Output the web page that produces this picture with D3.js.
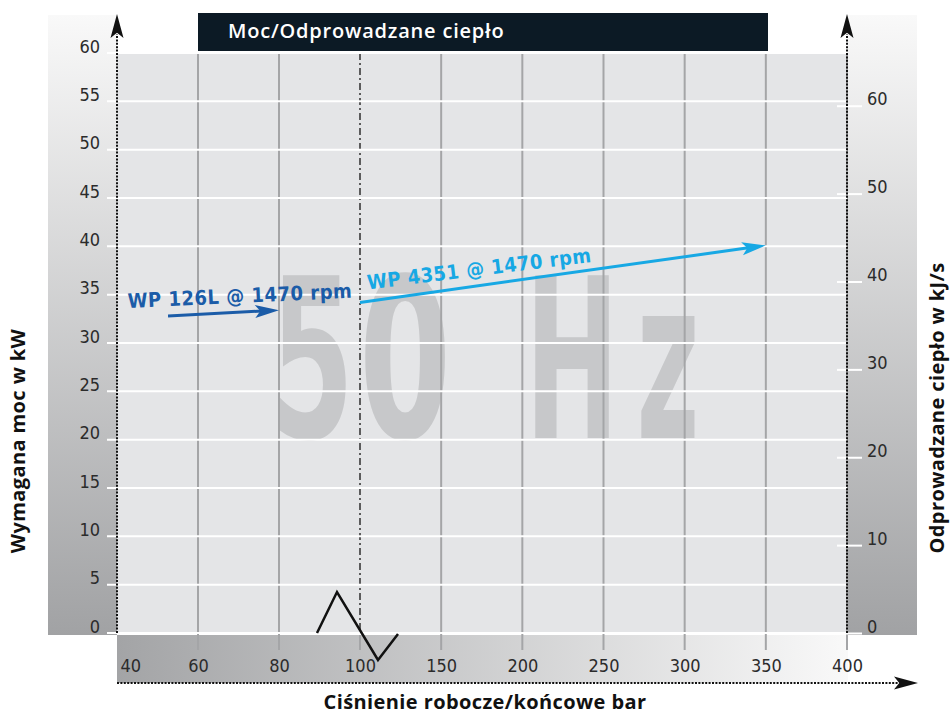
<!DOCTYPE html>
<html>
<head>
<meta charset="utf-8">
<script src="https://cdn.jsdelivr.net/npm/d3@7"></script>
<style>
  body { margin: 0; background: #fff; }
  svg { display: block; }
  .tick text { font-family: "Liberation Sans Narrow", "DejaVu Sans Condensed", sans-serif; font-size: 18px; fill: #2b2b2b; }
  .lbl { font-family: "Open Sans", sans-serif; font-weight: 700; font-size: 20px; fill: #111; letter-spacing: 0.4px; }
</style>
</head>
<body>
<div id="chart"></div>
<script>
// axis ticks
var xTicks = [40, 60, 80, 100, 150, 200, 250, 300, 350, 400];
var yLeftTicks = [0, 5, 10, 15, 20, 25, 30, 35, 40, 45, 50, 55, 60];
var yRightTicks = [0, 10, 20, 30, 40, 50, 60];

// series (arrows): start / end in bar and kW
var seriesNames = ["WP 126L @ 1470 rpm", "WP 4351 @ 1470 rpm"];
var seriesColors = ["#1b5ca8", "#17a8e4"];
var xStart = [52.6, 100];
var xEnd = [80, 350];
var yStart = [32.8, 34.2];
var yEnd = [33.4, 40.1];

var W = 950, H = 715;
var plot = { left: 117, right: 847, top: 53, bottom: 633 };

var svg = d3.select("#chart").append("svg")
    .attr("width", W)
    .attr("height", H);

// scales - x is split: 40..100 step 20, 100..400 step 50
var x = d3.scaleLinear().domain([40, 100, 400]).range([plot.left, 360, plot.right]);
var yL = d3.scaleLinear().domain([0, 60]).range([plot.bottom, plot.top]);
var yR = d3.scaleLinear().domain([0, 66]).range([plot.bottom, plot.top]);

var defs = svg.append("defs");
var gv = defs.append("linearGradient").attr("id", "gv").attr("x1", 0).attr("y1", 0).attr("x2", 0).attr("y2", 1);
gv.append("stop").attr("offset", "0%").attr("stop-color", "#f9f9f9");
gv.append("stop").attr("offset", "100%").attr("stop-color", "#a1a2a4");
var gh = defs.append("linearGradient").attr("id", "gh").attr("x1", 0).attr("y1", 0).attr("x2", 1).attr("y2", 0);
gh.append("stop").attr("offset", "0%").attr("stop-color", "#a3a4a6");
gh.append("stop").attr("offset", "100%").attr("stop-color", "#f9f9f9");

// side + bottom panels
svg.append("rect").attr("x", 48).attr("y", 15).attr("width", plot.left - 48).attr("height", 620).attr("fill", "url(#gv)");
svg.append("rect").attr("x", plot.right).attr("y", 15).attr("width", 70).attr("height", 620).attr("fill", "url(#gv)");
svg.append("rect").attr("x", plot.left).attr("y", 635).attr("width", plot.right - plot.left + 1).attr("height", 48).attr("fill", "url(#gh)");

// plot background
svg.append("rect")
    .attr("x", plot.left).attr("y", plot.top)
    .attr("width", plot.right - plot.left).attr("height", plot.bottom - plot.top)
    .attr("fill", "#e4e5e7");

// big "50 Hz" watermark, one glyph at a time so each can be squeezed
var wmChars = [["5", 312, 0.6], ["0", 405, 0.66], ["H", 572, 0.56], ["z", 668, 0.54]];
svg.append("g").selectAll("text")
    .data(wmChars)
    .enter().append("text")
    .attr("transform", function(d) { return "translate(" + d[1] + ",438) scale(" + d[2] + ",1)"; })
    .attr("text-anchor", "middle")
    .attr("font-family", "'Liberation Sans Narrow', 'DejaVu Sans Condensed', sans-serif")
    .attr("font-weight", 700)
    .attr("font-size", 223)
    .attr("fill", "#c7c8ca")
    .text(function(d) { return d[0]; });

// vertical grid (also ticks into bottom band)
svg.append("g").selectAll("line")
    .data(xTicks.filter(function(d) { return d != 40; }))
    .enter().append("line")
    .attr("x1", function(d) { return x(d); })
    .attr("x2", function(d) { return x(d); })
    .attr("y1", function(d) { return d == 100 ? plot.bottom + 2 : plot.top; })
    .attr("y2", 650)
    .attr("stroke", "#a4a5a7")
    .attr("stroke-width", 2);

// 100 bar divider
svg.append("line")
    .attr("x1", x(100)).attr("x2", x(100))
    .attr("y1", plot.top).attr("y2", plot.bottom)
    .attr("stroke", "#3a3a3a").attr("stroke-width", 1.6)
    .attr("stroke-dasharray", "7,3,2,3");

// horizontal grid (white)
svg.append("g").selectAll("line")
    .data(yLeftTicks)
    .enter().append("line")
    .attr("x1", 107).attr("x2", plot.right)
    .attr("y1", function(d) { return yL(d); })
    .attr("y2", function(d) { return yL(d); })
    .attr("stroke", "#fff").attr("stroke-width", 2);

// left axis labels
var axL = svg.append("g").attr("transform", "translate(" + plot.left + ",0)")
    .call(d3.axisLeft(yL).tickValues(yLeftTicks).tickSize(0).tickPadding(17));
axL.select(".domain").remove();
axL.selectAll("text").attr("dy", -1);

// right axis: white ticks + labels
var axR = svg.append("g").attr("transform", "translate(" + plot.right + ",0)")
    .call(d3.axisRight(yR).tickValues(yRightTicks).tickSize(15).tickPadding(5));
axR.select(".domain").remove();
axR.selectAll("line").attr("x1", -10).attr("stroke", "#fff").attr("stroke-width", 2);
axR.selectAll("text").attr("dy", -1);

// bottom axis labels
var axB = svg.append("g").attr("transform", "translate(0,672)")
    .call(d3.axisBottom(x).tickValues(xTicks).tickSize(0).tickPadding(0));
axB.select(".domain").remove();
axB.selectAll("text").attr("dy", 0).attr("y", 0);
axB.selectAll(".tick").filter(function(d) { return d == 40; }).select("text")
    .attr("text-anchor", "start").attr("x", 3);

// dotted axes with arrow heads
function dotted(x1, y1, x2, y2) {
    svg.append("line")
        .attr("x1", x1).attr("y1", y1).attr("x2", x2).attr("y2", y2)
        .attr("stroke", "#111").attr("stroke-width", 2)
        .attr("stroke-dasharray", "2,1.4");
}
dotted(plot.left, plot.bottom, plot.left, 34);
dotted(plot.right, plot.bottom, plot.right, 34);
dotted(plot.left, 683, 898, 683);

function head(tx, ty, ang, len, half, fill) {
    svg.append("path")
        .attr("d", "M0,0 L" + (-len) + "," + (-half) + " L" + (-len * 0.78) + ",0 L" + (-len) + "," + half + " Z")
        .attr("transform", "translate(" + tx + "," + ty + ") rotate(" + ang + ")")
        .attr("fill", fill);
}
head(plot.left, 14, -90, 24, 6.5, "#111");
head(plot.right, 14, -90, 24, 6.5, "#111");
head(918, 683, 0, 24, 6.5, "#111");

// series arrows
seriesNames.forEach(function(name, i) {
    var x1 = x(xStart[i]), y1 = yL(yStart[i]);
    var x2 = x(xEnd[i]), y2 = yL(yEnd[i]);
    var ang = Math.atan2(y2 - y1, x2 - x1);
    svg.append("line")
        .attr("x1", x1).attr("y1", y1)
        .attr("x2", x2 - 14 * Math.cos(ang)).attr("y2", y2 - 14 * Math.sin(ang))
        .attr("stroke", seriesColors[i]).attr("stroke-width", 3);
    head(x2, y2, ang * 180 / Math.PI, 24, 6.5, seriesColors[i]);
});

// series labels
var lblOffset = [[-40, -8, -2.6], [8, -13, -7]];
seriesNames.forEach(function(name, i) {
    var lx = x(xStart[i]) + lblOffset[i][0], ly = yL(yStart[i]) + lblOffset[i][1];
    svg.append("text")
        .attr("transform", "translate(" + lx + "," + ly + ") rotate(" + lblOffset[i][2] + ")")
        .attr("font-family", "'Liberation Sans Narrow', 'DejaVu Sans Condensed', sans-serif")
        .attr("font-weight", 700)
        .attr("font-size", 20)
        .attr("letter-spacing", 0.5)
        .attr("fill", seriesColors[i])
        .text(name);
});

// axis break zigzag
var bx = x(100), by = plot.bottom;
svg.append("path")
    .attr("d", d3.line()([[bx - 43, by], [bx - 23, by - 41], [bx + 18, by + 27], [bx + 38, by + 1]]))
    .attr("fill", "none").attr("stroke", "#111").attr("stroke-width", 2.5);

// title bar
svg.append("rect").attr("x", 198).attr("y", 13).attr("width", 570).attr("height", 38).attr("fill", "#0c1a25");
svg.append("text")
    .attr("x", 228).attr("y", 38)
    .attr("font-family", "'Open Sans', sans-serif")
    .attr("font-weight", 600)
    .attr("font-size", 20)
    .attr("letter-spacing", 0.8)
    .attr("fill", "#fff")
    .text("Moc/Odprowadzane ciepło");

// axis titles
svg.append("text").attr("class", "lbl")
    .attr("transform", "translate(25,441) rotate(-90)")
    .attr("text-anchor", "middle")
    .text("Wymagana moc w kW");
svg.append("text").attr("class", "lbl")
    .attr("transform", "translate(944,408) rotate(-90)")
    .attr("text-anchor", "middle")
    .attr("letter-spacing", 2)
    .text("Odprowadzane ciepło w kJ/s");
svg.append("text").attr("class", "lbl")
    .attr("x", 485).attr("y", 709)
    .attr("text-anchor", "middle")
    .text("Ciśnienie robocze/końcowe bar");
</script>
</body>
</html>
